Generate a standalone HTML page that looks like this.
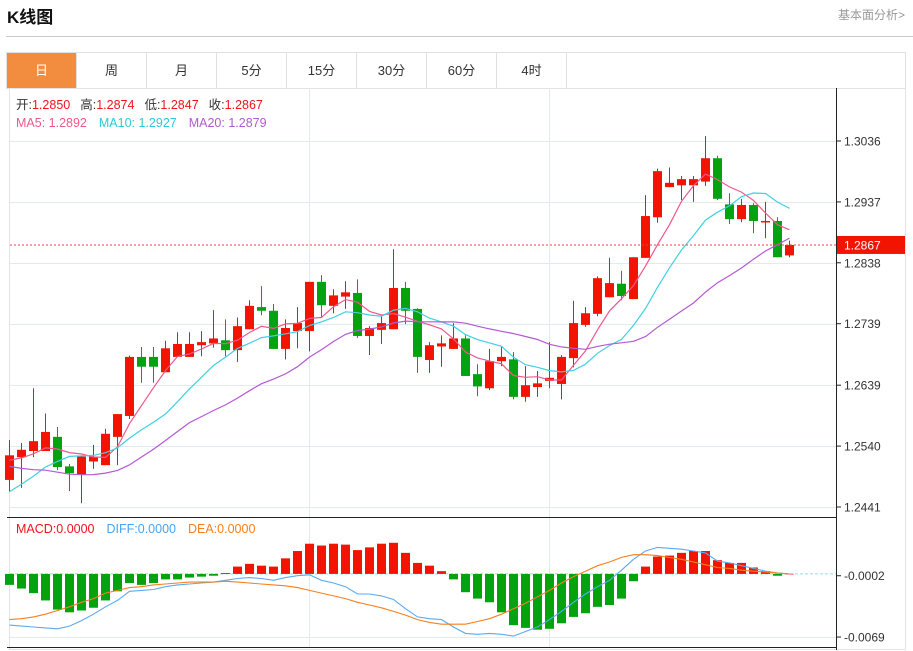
<!DOCTYPE html>
<html><head><meta charset="utf-8">
<style>
body{margin:0;background:#fff;width:913px;height:651px;overflow:hidden;font-family:"Liberation Sans","Noto Sans CJK SC",sans-serif;}
svg{position:absolute;left:0;top:0}
text{font-family:"Liberation Sans","Noto Sans CJK SC",sans-serif}
</style></head>
<body>
<svg id="svg" width="913" height="651" xmlns="http://www.w3.org/2000/svg">
  <text x="7" y="23" font-size="17" font-weight="bold" fill="#111">K线图</text>
  <text x="905" y="19" font-size="12" fill="#999" text-anchor="end">基本面分析&gt;</text>
  <line x1="6" y1="36.5" x2="913" y2="36.5" stroke="#ccc"/>
  <g id="tabs"></g>
  <rect x="9.5" y="88.5" width="896" height="561" fill="none" stroke="#e3e3e3"/>
  <g id="grid"></g>
  <g id="plot"></g>
  <g id="axes"></g>
  <g font-size="12.5">
    <text x="16" y="109"><tspan fill="#333">开:</tspan><tspan fill="#f0131f">1.2850</tspan><tspan fill="#333" dx="10">高:</tspan><tspan fill="#f0131f">1.2874</tspan><tspan fill="#333" dx="10">低:</tspan><tspan fill="#f0131f">1.2847</tspan><tspan fill="#333" dx="10">收:</tspan><tspan fill="#f0131f">1.2867</tspan></text>
    <text x="16" y="127"><tspan fill="#f0588a">MA5: 1.2892</tspan><tspan fill="#2ec7d8" dx="12">MA10: 1.2927</tspan><tspan fill="#b05ad0" dx="12">MA20: 1.2879</tspan></text>
  </g>
  <g font-size="12.5">
    <text x="16" y="533"><tspan fill="#f0131f">MACD:0.0000</tspan><tspan fill="#4aa3f0" dx="12">DIFF:0.0000</tspan><tspan fill="#f57f20" dx="12">DEA:0.0000</tspan></text>
  </g>
</svg>
<script>
const opens=[1.2485,1.2522,1.2532,1.2532,1.2555,1.2507,1.2494,1.2515,1.2509,1.2555,1.2589,1.2685,1.2685,1.2660,1.2685,1.2685,1.2704,1.2707,1.2712,1.2696,1.2730,1.2766,1.2760,1.2698,1.2727,1.2727,1.2807,1.2768,1.2783,1.2789,1.2719,1.2729,1.2730,1.2797,1.2763,1.2680,1.2702,1.2698,1.2715,1.2657,1.2634,1.2678,1.2681,1.2620,1.2636,1.2646,1.2641,1.2683,1.2737,1.2755,1.2782,1.2804,1.2779,1.2846,1.2912,1.2961,1.2964,1.2964,1.2970,1.3008,1.2933,1.2909,1.2932,1.2904,1.2906,1.2850];
const highs=[1.2550,1.2545,1.2634,1.2593,1.2571,1.2511,1.2523,1.2542,1.2568,1.2592,1.2687,1.2701,1.2701,1.2711,1.2725,1.2725,1.2727,1.2761,1.2746,1.2749,1.2777,1.2800,1.2771,1.2746,1.2766,1.2807,1.2818,1.2795,1.2808,1.2811,1.2735,1.2751,1.2860,1.2807,1.2764,1.2709,1.2720,1.2740,1.2720,1.2673,1.2698,1.2701,1.2693,1.2670,1.2662,1.2709,1.2688,1.2776,1.2766,1.2816,1.2846,1.2825,1.2847,1.2948,1.2991,1.2993,1.2979,1.2979,1.3044,1.3012,1.2951,1.2942,1.2935,1.2937,1.2912,1.2874];
const lows=[1.2466,1.2472,1.2522,1.2532,1.2501,1.2467,1.2447,1.2503,1.2509,1.2509,1.2584,1.2643,1.2643,1.2660,1.2685,1.2685,1.2686,1.2700,1.2686,1.2677,1.2730,1.2753,1.2698,1.2681,1.2699,1.2694,1.2750,1.2756,1.2763,1.2716,1.2688,1.2706,1.2730,1.2738,1.2659,1.2659,1.2669,1.2698,1.2654,1.2621,1.2631,1.2670,1.2616,1.2612,1.2620,1.2634,1.2616,1.2668,1.2734,1.2751,1.2782,1.2777,1.2779,1.2846,1.2903,1.2961,1.2940,1.2937,1.2963,1.2940,1.2901,1.2904,1.2886,1.2878,1.2847,1.2847];
const closes=[1.2525,1.2534,1.2548,1.2563,1.2506,1.2496,1.2523,1.2523,1.2560,1.2592,1.2685,1.2669,1.2669,1.2699,1.2706,1.2706,1.2709,1.2715,1.2696,1.2735,1.2768,1.2760,1.2698,1.2732,1.2740,1.2807,1.2769,1.2785,1.2790,1.2719,1.2732,1.2740,1.2797,1.2760,1.2685,1.2704,1.2707,1.2715,1.2654,1.2637,1.2678,1.2685,1.2620,1.2639,1.2642,1.2651,1.2685,1.2740,1.2756,1.2813,1.2805,1.2784,1.2847,1.2914,1.2987,1.2968,1.2974,1.2974,1.3008,1.2942,1.2909,1.2932,1.2906,1.2906,1.2847,1.2867];
const priorCloses=[1.2600,1.2590,1.2580,1.2570,1.2560,1.2540,1.2520,1.2510,1.2505,1.2505,1.2415,1.2415,1.2415,1.2415,1.2415,1.2515,1.2515,1.2515,1.2515];
const macdHist=[-0.0012,-0.0016,-0.0021,-0.0029,-0.0039,-0.0042,-0.0040,-0.0037,-0.0029,-0.0019,-0.0010,-0.0012,-0.0010,-0.0006,-0.0006,-0.0004,-0.0003,-0.0002,0.0001,0.0008,0.0011,0.0009,0.0008,0.0017,0.0025,0.0033,0.0031,0.0033,0.0032,0.0026,0.0029,0.0033,0.0034,0.0023,0.0012,0.0009,0.0003,-0.0006,-0.0020,-0.0027,-0.0031,-0.0042,-0.0056,-0.0059,-0.0061,-0.0060,-0.0054,-0.0047,-0.0043,-0.0036,-0.0034,-0.0027,-0.0008,0.0008,0.0019,0.0020,0.0023,0.0025,0.0025,0.0015,0.0012,0.0012,0.0007,0.0003,-0.0002,0.0000];
const diffVals=[-0.0056,-0.0057,-0.0058,-0.0059,-0.0060,-0.0057,-0.0051,-0.0044,-0.0036,-0.0029,-0.0019,-0.0018,-0.0017,-0.0014,-0.0012,-0.0011,-0.0010,-0.0009,-0.0007,-0.0005,-0.0004,-0.0005,-0.0007,-0.0004,-0.0002,-0.0001,-0.0007,-0.0010,-0.0014,-0.0022,-0.0022,-0.0024,-0.0028,-0.0038,-0.0047,-0.0049,-0.0050,-0.0058,-0.0065,-0.0066,-0.0065,-0.0066,-0.0068,-0.0063,-0.0058,-0.0050,-0.0041,-0.0031,-0.0022,-0.0014,-0.0007,0.0004,0.0016,0.0025,0.0029,0.0028,0.0027,0.0025,0.0023,0.0014,0.0012,0.0009,0.0006,0.0003,0.0001,0.0000];
const deaVals=[-0.0050,-0.0049,-0.0047,-0.0044,-0.0040,-0.0036,-0.0031,-0.0027,-0.0021,-0.0018,-0.0015,-0.0014,-0.0012,-0.0011,-0.0010,-0.0009,-0.0009,-0.0009,-0.0008,-0.0009,-0.0010,-0.0011,-0.0012,-0.0013,-0.0015,-0.0018,-0.0021,-0.0024,-0.0027,-0.0031,-0.0034,-0.0037,-0.0041,-0.0045,-0.0050,-0.0053,-0.0055,-0.0055,-0.0055,-0.0052,-0.0049,-0.0044,-0.0038,-0.0032,-0.0025,-0.0018,-0.0010,-0.0003,0.0003,0.0009,0.0013,0.0018,0.0021,0.0021,0.0020,0.0018,0.0016,0.0013,0.0010,0.0007,0.0006,0.0004,0.0003,0.0002,0.0001,0.0000];
const priceTicks=[1.3036,1.2937,1.2838,1.2739,1.2639,1.2540,1.2441];
const macdTicks=[-0.0002,-0.0069];
const tabLabels=["日","周","月","5分","15分","30分","60分","4时"];
const currentPrice=1.2867;

const NS="http://www.w3.org/2000/svg";
function mk(tag,attrs,parent,txt){const e=document.createElementNS(NS,tag);for(const k in attrs)e.setAttribute(k,attrs[k]);if(txt!==undefined)e.textContent=txt;parent.appendChild(e);return e;}
const xOf=i=>9.5+12*i;
const yP=p=>141+(1.3036-p)*6151;
const yM=v=>573.9-v*9150;
const RED="#f21400",GREEN="#03a30f";

const tabs=document.getElementById('tabs');
tabLabels.forEach((t,i)=>{
  const g=mk('g',{},tabs);
  
  
  mk('rect',{x:6.5+70*i,y:52.5,width:70,height:36,fill:i===0?"#f28c3f":"#fff",stroke:"#e0e0e0"},g);
  mk('text',{x:41.5+70*i,y:75,'font-size':13,'text-anchor':'middle',fill:i===0?"#fff":"#333"},g,t);
});
const tb=mk('rect',{x:566.5,y:52.5,width:339,height:36,fill:"#fff",stroke:"#e0e0e0"},tabs);



const grid=document.getElementById('grid');
priceTicks.forEach(p=>{const y=Math.round(yP(p))+0.5;mk('line',{x1:10,y1:y,x2:836,y2:y,stroke:"#e2eaf1"},grid);});
mk('line',{x1:10,y1:637.5,x2:836,y2:637.5,stroke:"#e2eaf1"},grid);
[309.5,549.5].forEach(x=>mk('line',{x1:x,y1:89,x2:x,y2:648,stroke:"#e2eaf1"},grid));

const plot=document.getElementById('plot');
closes.forEach((c,i)=>{
  const o=opens[i],up=c>=o,col=up?RED:GREEN,x=xOf(i);
  const g=mk('g',{},plot);
  
  
  mk('line',{x1:x,y1:yP(highs[i]),x2:x,y2:yP(lows[i]),stroke:col,'stroke-width':1},g);
  const t=yP(Math.max(o,c)),b=yP(Math.min(o,c));
  mk('rect',{x:x-4.5,y:t,width:9,height:Math.max(1.5,b-t),fill:col},g);
});
const all=priorCloses.concat(closes),off=priorCloses.length;
function ma(n){return closes.map((_,i)=>{let s=0;for(let k=0;k<n;k++)s+=all[off+i-k];return s/n;});}
[[5,"#f0588a","ma5-line"],[10,"#3fd0e3","ma10-line"],[20,"#b459d3","ma20-line"]].forEach(([n,col,name])=>{
  const v=ma(n);
  const pl=mk('polyline',{points:v.map((p,i)=>xOf(i)+","+yP(p).toFixed(1)).join(" "),fill:"none",stroke:col,'stroke-width':1.2},plot);
  
  
});
const cy=yP(currentPrice);
const cl=mk('line',{x1:10,y1:cy,x2:836,y2:cy,stroke:"#f04040",'stroke-dasharray':"2,2"},plot);



const zl=mk('line',{x1:10,y1:yM(0),x2:836,y2:yM(0),stroke:"#9fd6ee",'stroke-dasharray':"3,2"},plot);


macdHist.forEach((v,i)=>{
  const y0=yM(0),y1=yM(v);
  const r=mk('rect',{x:xOf(i)-4.5,y:Math.min(y0,y1),width:9,height:Math.max(0.5,Math.abs(y1-y0)),fill:v>=0?RED:GREEN},plot);
  
  
});
[[diffVals,"#5aaaf0","diff-line"],[deaVals,"#f57f20","dea-line"]].forEach(([arr,col,name])=>{
  const pl=mk('polyline',{points:arr.map((v,i)=>xOf(i)+","+yM(v).toFixed(1)).join(" "),fill:"none",stroke:col,'stroke-width':1.1},plot);
  
  
});

const axes=document.getElementById('axes');
mk('line',{x1:836.5,y1:88,x2:836.5,y2:650,stroke:"#222"},axes);
mk('line',{x1:7,y1:517.5,x2:836,y2:517.5,stroke:"#222"},axes);
mk('line',{x1:7,y1:647.5,x2:836,y2:647.5,stroke:"#222"},axes);
priceTicks.forEach(p=>{
  const y=yP(p);
  mk('line',{x1:836,y1:y,x2:841,y2:y,stroke:"#222"},axes);
  const t=mk('text',{x:844,y:y+4.5,'font-size':12,fill:"#333"},axes,p.toFixed(4));
  
  
});
macdTicks.forEach(v=>{
  const y=yM(v);
  mk('line',{x1:836,y1:y,x2:841,y2:y,stroke:"#222"},axes);
  const t=mk('text',{x:844,y:y+4.5,'font-size':12,fill:"#333"},axes,v.toFixed(4));
  
  
});
const badge=mk('g',{},axes);


mk('rect',{x:837,y:cy-9,width:68,height:18,fill:"#f21400"},badge);
mk('text',{x:844,y:cy+4.5,'font-size':12,fill:"#fff"},badge,currentPrice.toFixed(4));
</script>
</body></html>
